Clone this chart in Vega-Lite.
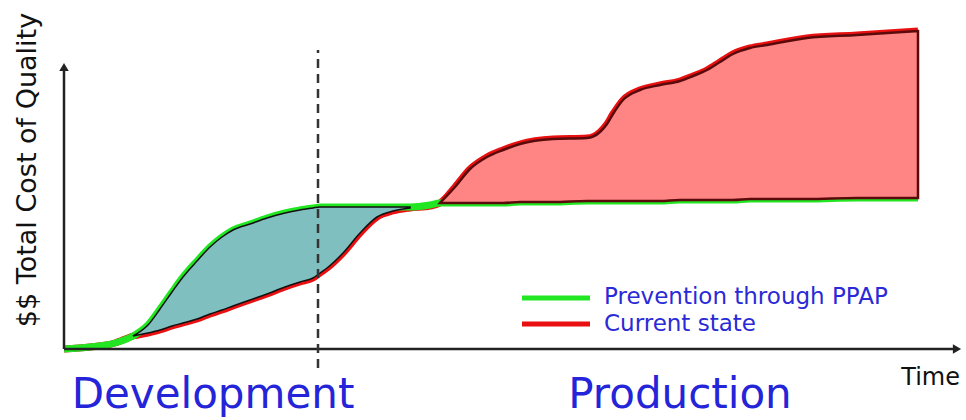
{
  "$schema": "https://vega.github.io/schema/vega-lite/v6.json",
  "width": 966,
  "height": 420,
  "autosize": "none",
  "padding": 0,
  "config": {"view": {"stroke": null}, "font": "DejaVu Sans"},
  "datasets": {
    "curves": [
      {"t": 0, "green": 0, "red": 0},
      {"t": 2.6, "green": 0.2, "red": 0.2},
      {"t": 5.1, "green": 0.6, "red": 0.6},
      {"t": 6.9, "green": 1.3, "red": 1.3},
      {"t": 8.4, "green": 2.4, "red": 1.6},
      {"t": 9.6, "green": 4.0, "red": 1.9},
      {"t": 10.8, "green": 5.7, "red": 2.3},
      {"t": 11.9, "green": 7.2, "red": 2.6},
      {"t": 13.3, "green": 8.8, "red": 3.0},
      {"t": 14.6, "green": 10.2, "red": 3.5},
      {"t": 15.8, "green": 11.2, "red": 3.9},
      {"t": 16.9, "green": 11.9, "red": 4.3},
      {"t": 18.6, "green": 12.5, "red": 4.9},
      {"t": 20.3, "green": 13.1, "red": 5.5},
      {"t": 22.1, "green": 13.6, "red": 6.2},
      {"t": 23.6, "green": 13.9, "red": 6.7},
      {"t": 24.9, "green": 14.1, "red": 7.1},
      {"t": 25.6, "green": 14.2, "red": 7.6},
      {"t": 26.3, "green": 14.2, "red": 8.1},
      {"t": 27.9, "green": 14.2, "red": 9.6},
      {"t": 29.6, "green": 14.2, "red": 11.6},
      {"t": 31.3, "green": 14.2, "red": 13.2},
      {"t": 32.9, "green": 14.2, "red": 13.8},
      {"t": 34.6, "green": 14.2, "red": 14.1},
      {"t": 36.6, "green": 14.4, "red": 14.3},
      {"t": 37.6, "green": 14.6, "red": 14.6},
      {"t": 39.1, "green": 14.6, "red": 16.2},
      {"t": 40.6, "green": 14.6, "red": 18.0},
      {"t": 42.3, "green": 14.6, "red": 19.2},
      {"t": 43.9, "green": 14.6, "red": 19.9},
      {"t": 45.6, "green": 14.7, "red": 20.5},
      {"t": 48.9, "green": 14.7, "red": 21.0},
      {"t": 52.3, "green": 14.8, "red": 21.1},
      {"t": 53.6, "green": 14.8, "red": 21.7},
      {"t": 54.3, "green": 14.8, "red": 22.5},
      {"t": 54.9, "green": 14.8, "red": 23.5},
      {"t": 55.9, "green": 14.8, "red": 24.9},
      {"t": 57.6, "green": 14.8, "red": 25.9},
      {"t": 59.6, "green": 14.8, "red": 26.4},
      {"t": 61.6, "green": 14.9, "red": 26.8},
      {"t": 62.9, "green": 14.9, "red": 27.3},
      {"t": 64.3, "green": 14.9, "red": 27.9},
      {"t": 65.6, "green": 14.9, "red": 28.7},
      {"t": 66.9, "green": 14.9, "red": 29.5},
      {"t": 68.6, "green": 15.0, "red": 30.1},
      {"t": 70.3, "green": 15.0, "red": 30.4},
      {"t": 74.3, "green": 15.0, "red": 31.1},
      {"t": 79.3, "green": 15.1, "red": 31.4},
      {"t": 85.4, "green": 15.1, "red": 31.8}
    ],
    "axes": [
      {"x0": 0, "x1": 89, "y0": 0, "y1": 0},
      {"x0": 0, "x1": 0, "y0": 0, "y1": 28.0}
    ],
    "arrows": [
      {"t": 0, "c": 28.2, "dir": "triangle-up"},
      {"t": 89.3, "c": 0, "dir": "triangle-right"}
    ],
    "divider": [{"t": 25.4, "c0": -1.9, "c1": 29.9}],
    "phases": [
      {"label": "Development", "t": 14.9, "c": -5.9},
      {"label": "Production", "t": 61.6, "c": -5.9}
    ],
    "legend": [
      {"series": "Prevention through PPAP", "x0": 45.8, "x1": 52.6, "c": 5.1, "tx": 54.0, "tc": 5.2},
      {"series": "Current state", "x0": 45.8, "x1": 52.6, "c": 2.5, "tx": 54.0, "tc": 2.5}
    ],
    "axisTitles": [
      {"label": "Time", "t": 89.6, "c": -3.6}
    ],
    "yTitle": [
      {"label": "$$ Total Cost of Quality", "t": -3.6, "c": 17.9}
    ]
  },
  "layer": [
    {
      "data": {"name": "curves"},
      "mark": {"type": "line", "stroke": "#e81010", "strokeWidth": 7, "interpolate": "monotone"},
      "encoding": {
        "x": {"field": "t", "type": "quantitative", "scale": {"domain": [-6.4, 90.2], "nice": false, "zero": false}, "axis": null},
        "y": {"field": "red", "type": "quantitative", "scale": {"domain": [-7.1, 34.9], "nice": false, "zero": false}, "axis": null}
      }
    },
    {
      "data": {"name": "curves"},
      "mark": {"type": "line", "stroke": "#22e622", "strokeWidth": 7, "interpolate": "monotone"},
      "encoding": {
        "x": {"field": "t", "type": "quantitative", "axis": null},
        "y": {"field": "green", "type": "quantitative", "axis": null}
      }
    },
    {
      "data": {"name": "curves"},
      "transform": [{"filter": "datum.t >= 6.9 && datum.t <= 34.6"}],
      "mark": {"type": "area", "fill": "#7fbfc0", "stroke": "#111111", "strokeWidth": 1.5, "interpolate": "monotone"},
      "encoding": {
        "x": {"field": "t", "type": "quantitative", "axis": null},
        "y": {"field": "green", "type": "quantitative", "axis": null},
        "y2": {"field": "red"}
      }
    },
    {
      "data": {"name": "curves"},
      "transform": [{"filter": "datum.t >= 37.6"}],
      "mark": {"type": "area", "fill": "#ff8585", "stroke": "#5a0a0a", "strokeWidth": 2.5, "interpolate": "monotone"},
      "encoding": {
        "x": {"field": "t", "type": "quantitative", "axis": null},
        "y": {"field": "red", "type": "quantitative", "axis": null},
        "y2": {"field": "green"}
      }
    },
    {
      "data": {"name": "axes"},
      "mark": {"type": "rule", "stroke": "#222222", "strokeWidth": 2.5},
      "encoding": {
        "x": {"field": "x0", "type": "quantitative", "axis": null},
        "x2": {"field": "x1"},
        "y": {"field": "y0", "type": "quantitative", "axis": null},
        "y2": {"field": "y1"}
      }
    },
    {
      "data": {"name": "arrows"},
      "mark": {"type": "point", "filled": true, "color": "#222222", "size": 90, "opacity": 1},
      "encoding": {
        "x": {"field": "t", "type": "quantitative", "axis": null},
        "y": {"field": "c", "type": "quantitative", "axis": null},
        "shape": {"field": "dir", "type": "nominal", "scale": {"domain": ["triangle-up", "triangle-right"], "range": ["triangle-up", "triangle-right"]}, "legend": null}
      }
    },
    {
      "data": {"name": "divider"},
      "mark": {"type": "rule", "stroke": "#333333", "strokeWidth": 2.5, "strokeDash": [9, 6]},
      "encoding": {
        "x": {"field": "t", "type": "quantitative", "axis": null},
        "y": {"field": "c0", "type": "quantitative", "axis": null},
        "y2": {"field": "c1"}
      }
    },
    {
      "data": {"name": "legend"},
      "mark": {"type": "rule", "strokeWidth": 5},
      "encoding": {
        "x": {"field": "x0", "type": "quantitative", "axis": null},
        "x2": {"field": "x1"},
        "y": {"field": "c", "type": "quantitative", "axis": null},
        "color": {"field": "series", "type": "nominal", "scale": {"domain": ["Prevention through PPAP", "Current state"], "range": ["#22e622", "#e81010"]}, "legend": null}
      }
    },
    {
      "data": {"name": "legend"},
      "mark": {"type": "text", "align": "left", "baseline": "middle", "fontSize": 23, "fill": "#2a2ad6"},
      "encoding": {
        "x": {"field": "tx", "type": "quantitative", "axis": null},
        "y": {"field": "tc", "type": "quantitative", "axis": null},
        "text": {"field": "series"}
      }
    },
    {
      "data": {"name": "phases"},
      "mark": {"type": "text", "align": "center", "baseline": "alphabetic", "fontSize": 42, "fill": "#2424d8"},
      "encoding": {
        "x": {"field": "t", "type": "quantitative", "axis": null},
        "y": {"field": "c", "type": "quantitative", "axis": null},
        "text": {"field": "label"}
      }
    },
    {
      "data": {"name": "axisTitles"},
      "mark": {"type": "text", "align": "right", "baseline": "alphabetic", "fontSize": 24, "fill": "#111111"},
      "encoding": {
        "x": {"field": "t", "type": "quantitative", "axis": null},
        "y": {"field": "c", "type": "quantitative", "axis": null},
        "text": {"field": "label"}
      }
    },
    {
      "data": {"name": "yTitle"},
      "mark": {"type": "text", "align": "center", "baseline": "middle", "fontSize": 27, "angle": 270, "fill": "#111111"},
      "encoding": {
        "x": {"field": "t", "type": "quantitative", "axis": null},
        "y": {"field": "c", "type": "quantitative", "axis": null},
        "text": {"field": "label"}
      }
    }
  ]
}
